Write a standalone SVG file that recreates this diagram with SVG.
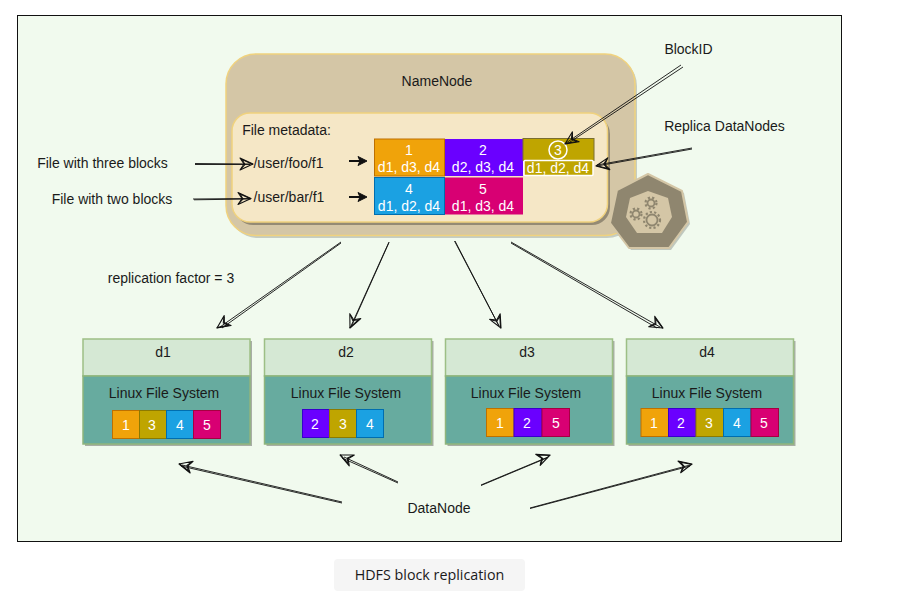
<svg xmlns="http://www.w3.org/2000/svg" width="918" height="603" viewBox="0 0 918 603">
<style>
text{font-family:"Liberation Sans",Arial,sans-serif;font-size:14px;fill:#1a1a1a;text-anchor:middle}
.w{fill:#fff}
.l{stroke:#111;stroke-width:.9;fill:none}
.k{stroke:#111;stroke-width:2;fill:none}
.h{stroke:#111;stroke-width:1.100;fill:none;stroke-linejoin:round}
.hd{fill:#d5e8d4;stroke:#9dbf85;stroke-width:1.5}
.bd{fill:#67ab9f;stroke:#8fb57c;stroke-width:1.5}
.sh{fill:#000;opacity:.3}
.c1{fill:#f0a30a;stroke:#bd7000}
.c2{fill:#6a00ff;stroke:#3700cc}
.c3{fill:#bfa500;stroke:#8c7a00}
.c4{fill:#1ba1e2;stroke:#006eaf}
.c5{fill:#d80073;stroke:#a50040}
.g1{fill:none;stroke:#8f866f;stroke-width:1.8}
.g2{fill:none;stroke:#8f866f;stroke-width:2.2;stroke-dasharray:2.200 2.200}
</style>
<defs>
<g id="ah"><path class="h" d="M0 0L-13 -6L-9 0L-13 6Z"/><path class="h" d="M0 0.5L-11 -4.5L-8 0.5L-12 5"/></g>
</defs>
<rect width="918" height="603" fill="#fff"/>
<rect x="17.500" y="15.500" width="824" height="526" fill="#f1faee" stroke="#111" stroke-width="1"/>
<g id="namenode">
<rect x="228" y="56" width="409" height="182" rx="30" fill="#000" opacity=".18"/>
<rect x="226" y="54" width="409" height="181.500" rx="30" fill="#d4c6a6" stroke="#f0d27e" stroke-width="1.5"/>
<text x="437" y="86">NameNode</text>
</g>
<g id="metadata">
<rect x="235" y="116" width="375" height="109" rx="18" fill="#000" opacity=".3"/>
<rect x="232" y="113" width="375.500" height="109" rx="18" fill="#f5e7c6" stroke="#f0d27e" stroke-width="1.500"/>
<text x="286.500" y="135">File metadata:</text>
<text x="288.500" y="168">/user/foo/f1</text>
<text x="289" y="202">/user/bar/f1</text>
</g>
<g id="blocks">
<rect class="c1" x="374.500" y="139" width="70" height="37"/>
<rect x="445" y="139" width="78" height="37" fill="#6a00ff"/>
<rect x="523" y="138.500" width="71" height="22" fill="#bfa500" stroke="#7a6e30"/>
<rect x="374.500" y="177.500" width="70" height="37" class="c4"/>
<rect x="445" y="177.500" width="78" height="37" fill="#d80073"/>
<rect x="524" y="160.500" width="69" height="15" rx="1" fill="#bfa500" stroke="#fff" stroke-width="1.500"/>
<circle cx="558" cy="150" r="9" fill="none" stroke="#fff" stroke-width="1.500"/>
<text class="w" x="409" y="155">1</text><text class="w" x="409" y="172">d1, d3, d4</text>
<text class="w" x="483" y="155">2</text><text class="w" x="483" y="172">d2, d3, d4</text>
<text class="w" x="558" y="155">3</text><text class="w" x="558" y="172.500">d1, d2, d4</text>
<text class="w" x="409" y="194">4</text><text class="w" x="409" y="211">d1, d2, d4</text>
<text class="w" x="483" y="194">5</text><text class="w" x="483" y="211">d1, d3, d4</text>
</g>
<g id="hex">
<path d="M648 174L682 191 688 222 669 248 629 248 610 223 617 190Z" fill="#000" opacity=".2" transform="translate(2 2)"/>
<path d="M648 174L682 191 688 222 669 248 629 248 610 223 617 190Z" fill="#8f866f" stroke="#d4c6a6" stroke-width="2" stroke-linejoin="round"/>
<path d="M648 191L668 198 672 217 662 233 637 233 626 217 630 198Z" fill="#d4c6a6"/>
<circle class="g1" cx="636" cy="214" r="3.500"/><circle class="g2" cx="636" cy="214" r="5.500"/>
<circle class="g1" cx="651" cy="203" r="3.500"/><circle class="g2" cx="651" cy="203" r="5.500"/>
<circle class="g1" cx="652" cy="220" r="5.500"/><circle class="g2" cx="652" cy="220" r="8"/>
</g>
<g id="d1">
<rect class="sh" x="85" y="341" width="167" height="105"/>
<rect class="hd" x="83" y="339" width="167" height="37"/>
<rect class="bd" x="83" y="376" width="167" height="68"/>
<text x="163" y="357">d1</text><text x="164" y="398">Linux File System</text>
<rect class="c1" x="112.500" y="410.500" width="27" height="28"/><rect class="c3" x="139.500" y="410.500" width="27" height="28"/><rect class="c4" x="166.500" y="410.500" width="27" height="28"/><rect class="c5" x="193.500" y="410.500" width="27" height="28"/>
<text class="w" x="126" y="430">1</text><text class="w" x="152" y="430">3</text><text class="w" x="180" y="430">4</text><text class="w" x="207" y="430">5</text>
</g>
<g id="d2">
<rect class="sh" x="266.500" y="341" width="167" height="105"/>
<rect class="hd" x="264.500" y="339" width="167" height="37"/>
<rect class="bd" x="264.500" y="376" width="167" height="68"/>
<text x="346" y="357">d2</text><text x="346" y="398">Linux File System</text>
<rect class="c2" x="302.500" y="409.500" width="27" height="28"/><rect class="c3" x="329.500" y="409.500" width="27" height="28"/><rect class="c4" x="356.500" y="409.500" width="27" height="28"/>
<text class="w" x="315" y="429">2</text><text class="w" x="343" y="429">3</text><text class="w" x="370" y="429">4</text>
</g>
<g id="d3">
<rect class="sh" x="447.500" y="341" width="167" height="105"/>
<rect class="hd" x="445.500" y="339" width="167" height="37"/>
<rect class="bd" x="445.500" y="376" width="167" height="68"/>
<text x="527" y="357">d3</text><text x="526" y="398">Linux File System</text>
<rect class="c1" x="486.500" y="408.500" width="27.500" height="28"/><rect class="c2" x="514" y="408.500" width="28" height="28"/><rect class="c5" x="542" y="408.500" width="27.500" height="28"/>
<text class="w" x="500" y="428">1</text><text class="w" x="527" y="428">2</text><text class="w" x="556" y="428">5</text>
</g>
<g id="d4">
<rect class="sh" x="628.500" y="341" width="167" height="105"/>
<rect class="hd" x="626.500" y="339" width="167" height="37"/>
<rect class="bd" x="626.500" y="376" width="167" height="68"/>
<text x="707" y="357">d4</text><text x="707" y="398">Linux File System</text>
<rect class="c1" x="641" y="408.500" width="27.500" height="28"/><rect class="c2" x="668.500" y="408.500" width="27.500" height="28"/><rect class="c3" x="696" y="408.500" width="27.500" height="28"/><rect class="c4" x="723.500" y="408.500" width="27.500" height="28"/><rect class="c5" x="751" y="408.500" width="27.500" height="28"/>
<text class="w" x="654" y="428">1</text><text class="w" x="681" y="428">2</text><text class="w" x="709" y="428">3</text><text class="w" x="737" y="428">4</text><text class="w" x="764" y="428">5</text>
</g>
<g id="labels">
<text x="102.500" y="168">File with three blocks</text>
<text x="112" y="204">File with two blocks</text>
<text x="171" y="283">replication factor = 3</text>
<text x="688.500" y="54">BlockID</text>
<text x="724.500" y="131">Replica DataNodes</text>
<text x="439" y="513">DataNode</text>
</g>
<g id="connectors">
<path class="l" d="M195 163.500L252 164M195 164.500L250 164.500M193 199L250 198.500M194 199.800L250 199"/><use href="#ah" transform="translate(253 164)"/><use href="#ah" transform="translate(251 198.500)"/>
<path class="k" d="M349 161L362 161"/><path d="M367 161L358 156.500 360 161 358 165.500Z" fill="#111" stroke="#111"/>
<path class="k" d="M349 197L362 197"/><path d="M367 197L358 192.500 360 197 358 201.500Z" fill="#111" stroke="#111"/>
<path class="l" d="M681 65L566 143M683 67L567 144"/><use href="#ah" transform="translate(565 144) rotate(146)"/>
<path class="l" d="M692 148L597 165M692 149L597 166"/><use href="#ah" transform="translate(596 166) rotate(170)"/>
<path class="l" d="M341 242L220 327M341 243L222 328"/><use href="#ah" transform="translate(217 328) rotate(145)"/>
<path class="l" d="M389 242L351 326M389 242.500L351.600 326"/><use href="#ah" transform="translate(350 328) rotate(114)"/>
<path class="l" d="M455 241L499 326M454.500 241L499 326"/><use href="#ah" transform="translate(501 328) rotate(62)"/>
<path class="l" d="M511 242L660 327M511 243L657 328"/><use href="#ah" transform="translate(663 328) rotate(30)"/>
<path class="l" d="M342 502L182 465M342 503L181 466"/><use href="#ah" transform="translate(179 464) rotate(194)"/>
<path class="l" d="M398 482L344 457M398 483L342 458"/><use href="#ah" transform="translate(340 455) rotate(205)"/>
<path class="l" d="M481 485L548 457M481 485.500L548 457.500"/><use href="#ah" transform="translate(550 455) rotate(-22)"/>
<path class="l" d="M530 508L690 465M530 508.500L690 466"/><use href="#ah" transform="translate(692 464) rotate(-13)"/>
</g>
<g id="caption">
<rect x="334" y="559" width="191" height="32" rx="4" fill="#f5f5f5"/>
<text x="429.500" y="580" style="font-family:'Open Sans',sans-serif;font-size:14.3px">HDFS block replication</text>
</g>
</svg>
